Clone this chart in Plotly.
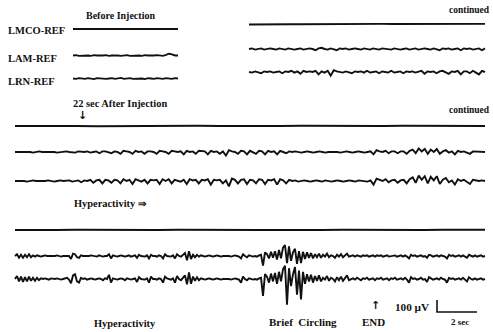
import numpy as np
import plotly.graph_objects as go

# ---------------- data (µV samples per channel, read from the record) ----------------
lmco_before = [0, 0, 2, 0, -2, 0, 0, 2, 0, 0, -2, 0, 2, 0, 0, -2, 0, 0, 2, 0, 0, -2, 0, 2, 0, 0, -2, 0, 0, 2, 0, 0, -2, 0, 2, 0]
lam_before = [0, 3, -3, 0, 3, 0, -3, 3, 0, -3, 0, 3, -3, 0, 3, 0, -3, 0, 3, -3, 0, 3, 0, -3, 3, 0, -3, 0, 3, 0, -3, 5, 15, 10, 0, 0]
lrn_before = [0, -3, 3, 0, -3, 3, 0, -5, 3, 0, 3, -3, 0, 3, -3, 0, 5, -3, 0, 3, -3, 0, 3, 0, -5, 3, 0, -3, 3, 0, -3, 3, 0, -3, 3, 0]

lmco_cont = [0, 2, 0, 0, 2, 2, 3, 3, 2, 4, 4, 3, 4, 5, 4, 4, 5, 5, 4, 5, 5, 4, 5, 5]
lam_cont = [0, 5, -5, 0, 5, -5, 0, 5, 0, -5, 5, 0, -5, 5, 0, -5, 0, 5, -5, 0,
            5, 0, -10, 5, 10, 0, -5, 5, 0, -10, 5, 0, 5, -5, 0, 5, 0, -5, 5, 0,
            -5, 5, 0, -5, 5, 0, 0, -5, 5, 0, -5, 0, 5, -5, 0, 5, -5, 0, 5, 0,
            -5, 5, 0, -10, 5, 0, 5, -5, 0, 5, -10, 5, 0, 5, -5, 0, 5, -10, 5]
lrn_cont = [0, -5, 5, 0, -10, 5, 0, 5, -5, 0, 5, -10, 5, 0, 10, -5, 5, -15, 10, 0,
            5, 0, 10, -20, 5, -5, 10, -30, 15, 5, 0, -5, 5, 0, -10, 5, 0, 5, -5, 10,
            -5, 0, 5, -10, 5, 0, -5, 10, -5, 0, 5, -10, 5, 0, 5, -5, 0, 10, -15, 5,
            0, 5, -10, 5, 10, -5, -15, 5, 0, 10, -20, 5, 5, -10, 10, -5, -20, 10, 0]

lmco_after = [0, 2, 0, 0, -2, 0, 2, 0, 0, 2, 0, -2, 0, 0, 2, 0, 0, -2, 0, 2, 0, 0, 2, 0]
lam_after = [0, 0, 0, 5, 0, 0, -5, 0, 5, 0, 0, 0, 5, 0, -5, 0, 0, 5, 0, 0,
             -5, 5, 0, 0, 5, -5, 0, 5, -10, 5, 5, 0, -10, 5, 0, -15, 10, 5, 0, -15,
             10, 0, 5, -15, 5, 5, 0, -15, 10, 5, 0, -15, 10, 5, 0, 5, -20, 10, 0, 5,
             -15, 10, 5, 5, -20, 10, 0, 5, -15, 5, -30, 15, 5, 0, -15, 10, 5, -20, 10, 0,
             -15, 10, 5, -20, 10, 0, 5, -20, 10, 0, -10, 5, 0, 5, 0, -5, 0, 5, 0, -5,
             0, 5, 0, -5, 0, 0, 5, 0, -5, 0, 5, 0, -5, 0, 5, 0, -5, 0, 5, -20,
             15, 5, 0, 10, -10, 5, 5, -10, 5, 5, -15, 10, 20, -10, 30, 5, 25, -15, 20, 0,
             25, -15, 5, 15, -5, 5, -20, 10, 0, 5, -5, -15, 5, 5, 0, 5, 0]
lrn_after = [0, 0, 5, 0, -5, 0, 5, 0, 0, -5, 0, 5, 0, -5, 0, 5, 0, 0, 5, -5,
             0, 5, -10, 5, 0, 10, -15, 5, 10, -20, 10, 5, -15, 10, 5, -20, 15, 0, 10, -25,
             15, 5, -5, 10, -20, 10, 5, 10, -25, 15, 0, 15, -20, 10, 5, -5, 10, -25, 15, 5,
             10, -20, 10, 5, 15, -30, 10, 5, 10, -20, 5, -45, 20, 10, -20, 10, 15, -25, 10, 5,
             -20, 15, 10, -25, 10, 5, 15, -30, 15, 5, -20, 10, 0, 5, -5, 0, 5, 0, -5, 0,
             5, 0, -5, 5, 0, -5, 0, 5, 0, -5, 0, 5, 0, -5, 5, 0, 0, -5, 5, -30,
             20, 10, 0, 15, -10, 5, 10, -15, 5, 10, -20, 15, 30, -15, 45, 10, 40, -20, 35, 5,
             40, -25, 10, 25, -10, 5, -30, 15, 0, 10, -5, -25, 10, 5, 0, 5, 0]

lmco_hyper = [0, -2, 0, 2, 0, 0, -2, 0, 2, 0, 0, 2, 0, 0, -2, 0, 2, 0, 0, 2, 0, 2, 0, 2]
lam_hyper = [0, 15, -15, 10, -15, 10, -10, 15, -10, 5, -5, 5, 0, -5, 0, 5, 0, 0, -5, 0,
             0, 5, 0, -5, 0, 0, 5, 0, -25, 20, 15, -10, -15, 5, 0, 0, -5, 0, 5, 0,
             0, -5, 5, 0, -5, 0, 0, 15, -20, 5, 0, -5, 0, 5, 0, -5, 0, 5, -5, 0,
             5, -15, 10, 0, 0, -5, 5, -20, 10, 0, 0, -5, 5, 0, -20, 15, 0, 0, -5, 5,
             -20, 15, 0, -5, 10, 25, -35, 40, -25, 10, -10, 10, -5, 5, 0, -5, 0, 5, 0, -5,
             0, 5, 0, -5, 0, 0, 5, 0, -5, 0, 5, 0, -5, -20, 15, 0, -10, 5, 0, -5,
             0, -5, 5, 10, -80, 30, 15, -20, 35, -15, 40, -30, 50, -20, 70, 90, -60, 80, -40, 30,
             60, -65, 40, -60, 35, -25, 30, -15, 25, -20, 15, -10, 20, -15, 10, -5, 20, -10, 5, 0,
             -15, 10, -5, 15, -10, 5, 20, -5, 0, 5, -5, 5, 0, -5, 5, 0, 5, -5, 0, 5,
             -5, 5, 0, 5, -5, 0, 5, -5, 0, 0, 5, -5, 0, 5, -5, 5, -5, -20, 10, 0,
             5, -5, 0, 5, -5, 0, -15, 10, 5, -5, 0, 5, -5, 5, 0, -5, -20, 10, 0, 5,
             -5, 0, 5, -5, 5, -5, -15, 10, 0, -5, 5, -5, 0, 5, -5, 0]
lrn_hyper = [0, 25, -20, 20, -25, 15, -20, 20, -15, 10, -15, 10, -10, 5, 0, 5, 0, -5, 5, 0,
             0, 5, 0, -5, 0, 5, 10, -5, -35, 30, 40, -20, -30, 10, 0, 5, -5, 0, 5, 0,
             -5, 0, 5, 0, -10, 5, 0, 35, -30, 5, 0, -5, 0, 5, 0, -10, 5, 0, -5, 0,
             5, -25, 15, 0, 0, -5, 5, -30, 20, 0, 0, -5, 5, 0, -30, 20, 5, 0, -5, 5,
             -30, 25, 0, -10, 10, 30, -45, 55, -40, 20, -15, 15, -10, 5, 0, -5, 0, 5, 0, -5,
             0, 5, 0, -5, 0, 0, 5, 0, -5, 0, 5, 0, -5, -30, 20, 0, -10, 5, 0, -5,
             0, -5, 5, 10, -140, 40, 20, -30, 45, -20, 50, -40, 60, -20, 80, 110, -215, 90, -60, 40,
             100, -130, 70, -170, 60, -40, 40, -20, 35, -30, 25, -15, 30, -20, 10, -5, 25, -15, 10, 0,
             -20, 15, -10, 20, -15, 5, 30, -10, 0, 5, -5, 10, 0, -10, 5, 0, 10, -5, 0, 5,
             -10, 5, 0, 10, -5, 0, 5, -10, 5, 0, 10, -5, 0, 5, -5, 10, -5, -30, 15, 0,
             5, -5, 0, 10, -5, 0, -25, 15, 5, -5, 0, 5, -5, 10, 0, -5, -30, 10, 0, 5,
             -5, 0, 5, -5, 10, -5, -20, 15, 0, -5, 5, -5, 0, 5, -5, 0]

channel_labels = ["LMCO-REF", "LAM-REF", "LRN-REF"]
scale_bar_uv = 100
scale_bar_sec = 2

# ---------------- layout geometry (pixels of the 493x332 page) ----------------
W, H = 493, 332
UV_PER_PX = 100 / 12
SEC_PER_PX = 1 / 20
X0_PX = 15


def tx(px):
    return (px - X0_PX) * SEC_PER_PX


def ty(py):
    return -py * UV_PER_PX


segments = [
    (lmco_before, 73, 178, 29),
    (lam_before, 73, 178, 55.5),
    (lrn_before, 73, 178, 78.5),
    (lmco_cont, 249, 485, 24.5),
    (lam_cont, 249, 485, 49),
    (lrn_cont, 249, 485, 72),
    (lmco_after, 15, 485, 126),
    (lam_after, 15, 485, 152),
    (lrn_after, 15, 485, 181),
    (lmco_hyper, 15, 485, 230),
    (lam_hyper, 15, 485, 256),
    (lrn_hyper, 15, 485, 279),
]

INK = "#111111"
fig = go.Figure()
for vals, xs, xe, base in segments:
    v = np.array(vals, dtype=float)
    t = np.linspace(tx(xs), tx(xe), len(v))
    fig.add_trace(go.Scatter(x=t, y=ty(base) + v, mode="lines",
                             line=dict(color=INK, width=1.9),
                             hoverinfo="skip", showlegend=False))

# scale bar: 100 µV vertical, 2 sec horizontal
sb_t0 = tx(437)
sb_base = ty(312)
fig.add_trace(go.Scatter(x=[sb_t0, sb_t0, sb_t0 + scale_bar_sec],
                         y=[sb_base + scale_bar_uv, sb_base, sb_base],
                         mode="lines", line=dict(color=INK, width=1.6),
                         hoverinfo="skip", showlegend=False))

FONT = "Liberation Serif"


def label(text, px, py, size=10, anchor="center", family=FONT):
    fig.add_annotation(x=tx(px), y=ty(py), text="<b>" + text + "</b>",
                       showarrow=False, xanchor=anchor, yanchor="middle",
                       font=dict(family=family, size=size, color=INK))


label("Before Injection", 120, 15, 10)
label(channel_labels[0], 6, 30, 10.5, "left")
label(channel_labels[1], 6, 58, 10.5, "left")
label(channel_labels[2], 6, 81, 10.5, "left")
label("continued", 492, 10, 9.5, "right")
label("continued", 492, 110, 9.5, "right")
label("22 sec After Injection", 120, 103, 10.4)
label("↓", 82, 115, 11, family="DejaVu Sans")
label("Hyperactivity ⇒", 72, 203, 10.4, "left")
label("Hyperactivity", 125, 323, 10.4)
label("Brief\u00a0\u00a0Circling", 303, 322, 11)
label("↑", 375, 305, 11, family="DejaVu Sans")
label("END", 373, 322, 11)
label("100 \u00b5V", 412, 307, 11.2)
label("2 sec", 460, 322, 9)

fig.update_layout(
    width=W, height=H,
    margin=dict(l=0, r=0, t=0, b=0),
    paper_bgcolor="white", plot_bgcolor="white",
    showlegend=False,
    xaxis=dict(range=[tx(0), tx(W)], visible=False, fixedrange=True),
    yaxis=dict(range=[ty(H), ty(0)], visible=False, fixedrange=True),
)

fig.write_html("out.html", config={"displayModeBar": False},
               post_script="document.body.style.margin='0';document.body.style.overflow='hidden';")
